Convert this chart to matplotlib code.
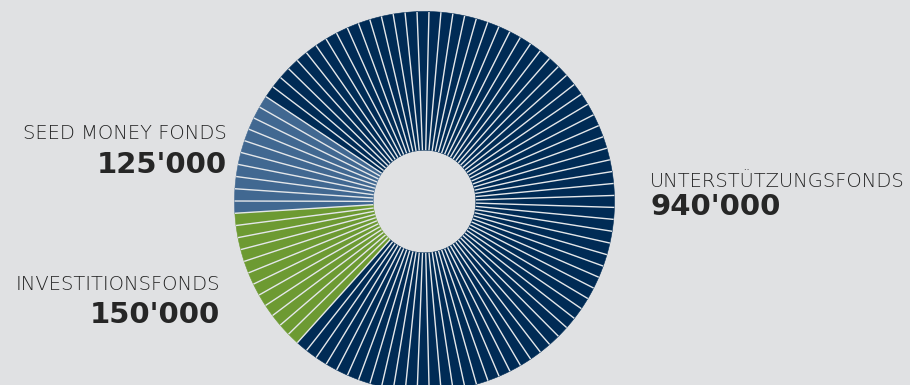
import matplotlib
matplotlib.use("Agg")
import matplotlib.pyplot as plt
import numpy as np

# Fonds und Beträge (CHF)
labels = ["UNTERSTÜTZUNGSFONDS", "SEED MONEY FONDS", "INVESTITIONSFONDS"]
values = [940000, 125000, 150000]
value_texts = ["940'000", "125'000", "150'000"]
colors = ["#002b55", "#416891", "#6d9a32"]

bg = "#e0e1e3"
line_col = "#e4e7ea"
total = sum(values)

# jeder Fonds wird in Streifen von ca. 1 % aufgeteilt
wedge_vals, wedge_cols = [], []
for v, c in zip(values, colors):
    n = max(1, round(v / total * 100))
    wedge_vals += [v / n] * n
    wedge_cols += [c] * n

fig = plt.figure(figsize=(9.1, 3.85), dpi=100, facecolor=bg)

# Achse so, dass Zentrum bei (424.5, 201.5) px und Radius 190 px liegt
cx, cy, r = 424.5, 385 - 201.5, 190
ax = fig.add_axes([(cx - r) / 910, (cy - r) / 385, 2 * r / 910, 2 * r / 385])
ax.set_facecolor(bg)
inner = 0.27
wedges, _ = ax.pie(wedge_vals, colors=wedge_cols, startangle=228,
                   counterclock=True, radius=1,
                   wedgeprops=dict(width=1 - inner, linewidth=0.4,
                                   edgecolor=None, antialiased=True))
for w in wedges:
    w.set_edgecolor(w.get_facecolor())

# feine helle Trennlinien zwischen den Streifen
for w in wedges:
    a = np.deg2rad(w.theta1)
    ax.plot([inner * np.cos(a), np.cos(a)], [inner * np.sin(a), np.sin(a)],
            color=line_col, lw=1.0, solid_capstyle="butt")

ax.set_xlim(-1, 1)
ax.set_ylim(-1, 1)
ax.set_aspect("equal")
ax.axis("off")

txt = "#262626"
fam = ["DejaVu Sans"]

# (Index, x, Grundlinie Name, Grundlinie Betrag, Ausrichtung) in Pixeln
spots = [(0, 650, 187, 215, "left"), (1, 227, 139, 173, "right"),
         (2, 220, 290, 323, "right")]
for i, x, yn, yv, ha in spots:
    fig.text(x / 910, 1 - yn / 385, labels[i], ha=ha, va="baseline",
             fontsize=14, color="#222222", family=fam, fontweight="light")
    fig.text(x / 910, 1 - yv / 385, value_texts[i], ha=ha, va="baseline",
             fontsize=21, fontweight="bold", color=txt, family=fam)

fig.savefig("out.png", dpi=100, facecolor=bg)
